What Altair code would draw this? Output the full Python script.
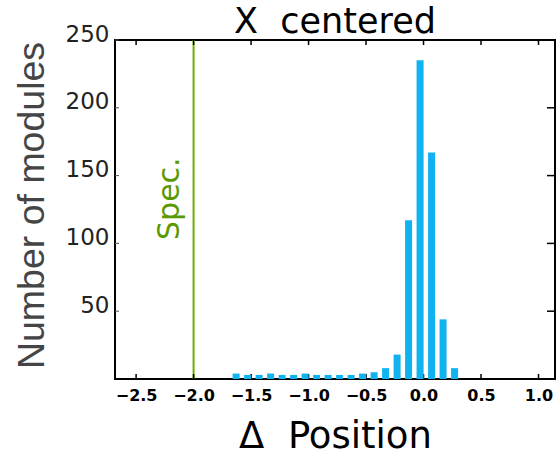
import altair as alt
import pandas as pd

# Histogram of module position offsets (X centered)
bin_centers = [-1.63, -1.53, -1.43, -1.33, -1.23, -1.13, -1.03, -0.93, -0.83, -0.73,
               -0.63, -0.53, -0.43, -0.33, -0.23, -0.13, -0.03, 0.07, 0.17, 0.27]
module_counts = [4, 3, 3, 4, 3, 3, 4, 3, 3, 3,
                 3, 4, 5, 8, 18, 117, 235, 167, 44, 8]
x_ticks = [-2.5, -2.0, -1.5, -1.0, -0.5, 0.0, 0.5, 1.0]
y_ticks = [50, 100, 150, 200, 250]
spec_limit = [-2.0]
spec_label_y = [133]
chart_title = ["X\u00a0\u00a0centered"]

BAR_COLOR = "#10B2F0"
SPEC_LINE = "#6cae00"
SPEC_TEXT = "#5a9a00"
W, H = 440, 339

bars_df = pd.DataFrame({"delta": bin_centers, "count": module_counts})
xt_df = pd.DataFrame({"v": x_ticks})
yt_df = pd.DataFrame({"v": y_ticks})
spec_df = pd.DataFrame({"v": spec_limit, "y": spec_label_y, "label": ["Spec."]})
title_df = pd.DataFrame({"t": chart_title})

x_scale = alt.Scale(domain=[-2.64, 1.10], nice=False, zero=False)
y_scale = alt.Scale(domain=[0, 250], nice=False)

x_axis = alt.Axis(
    values=x_ticks, format=".1f", domain=False, ticks=False, grid=False,
    labelFont="DejaVu Sans", labelFontWeight="bold", labelFontSize=16,
    labelColor="black", labelPadding=8, labelFlush=False, labelOverlap=False,
    title="\u0394\u00a0\u00a0Position", titleFont="DejaVu Sans", titleFontSize=37,
    titleFontWeight="normal", titleColor="black", titleX=W / 2, titleY=68,
    titleAlign="center", titleBaseline="alphabetic",
)
y_axis = alt.Axis(
    values=y_ticks, domain=False, ticks=False, grid=False,
    labelFont="DejaVu Sans", labelFontSize=23, labelColor="#222222",
    labelPadding=6, labelOffset=-6, labelBaseline="middle", labelFlush=False,
    labelOverlap=False,
    title="Number of modules", titleFont="Liberation Sans", titleFontSize=37.5,
    titleFontWeight="normal", titleColor="#454545", titleAngle=270,
    titleX=-72, titleY=165, titleAlign="center", titleBaseline="alphabetic",
)

bars = alt.Chart(bars_df).mark_bar(size=7, color=BAR_COLOR).encode(
    x=alt.X("delta:Q", scale=x_scale, axis=x_axis),
    y=alt.Y("count:Q", scale=y_scale, axis=y_axis),
)

spec_rule = alt.Chart(spec_df).mark_rule(color=SPEC_LINE, strokeWidth=2).encode(
    x=alt.X("v:Q", scale=x_scale, axis=None),
)

# label reads upward, sitting just left of the spec line
spec_text = alt.Chart(spec_df).mark_text(
    angle=270, align="center", baseline="alphabetic", dy=-15,
    font="DejaVu Sans", fontSize=30, color=SPEC_TEXT,
).encode(
    x=alt.X("v:Q", scale=x_scale, axis=None),
    y=alt.Y("y:Q", scale=y_scale, axis=None),
    text="label:N",
)

# plot heading, centred above the box
heading = alt.Chart(title_df).mark_text(
    align="center", baseline="alphabetic", font="DejaVu Sans", fontSize=35,
    color="black",
).encode(x=alt.value(W / 2), y=alt.value(-7), text="t:N")

# inward-pointing tick marks on all four sides of the box
tick_style = dict(color="black", strokeWidth=1.5)
bottom_ticks = alt.Chart(xt_df).mark_rule(**tick_style).encode(
    x=alt.X("v:Q", scale=x_scale, axis=None), y=alt.value(H), y2=alt.value(H - 5))
top_ticks = alt.Chart(xt_df).mark_rule(**tick_style).encode(
    x=alt.X("v:Q", scale=x_scale, axis=None), y=alt.value(0), y2=alt.value(5))
right_ticks = alt.Chart(yt_df).mark_rule(**tick_style).encode(
    y=alt.Y("v:Q", scale=y_scale, axis=None), x=alt.value(W), x2=alt.value(W - 8))
left_ticks = alt.Chart(yt_df).mark_rule(color="#555555", strokeWidth=1).encode(
    y=alt.Y("v:Q", scale=y_scale, axis=None), x=alt.value(0), x2=alt.value(4))

chart = alt.layer(
    spec_rule, spec_text, heading, bottom_ticks, top_ticks, right_ticks,
    left_ticks, bars
).resolve_axis(
    x="independent", y="independent"
).properties(
    width=W, height=H,
    autosize=alt.AutoSizeParams(type="none"),
    padding={"left": 115, "top": 40, "right": 2, "bottom": 77},
    background="white",
).configure_view(stroke="black", strokeWidth=2)

chart.save("out.html", embed_options={"renderer": "svg", "actions": False})
